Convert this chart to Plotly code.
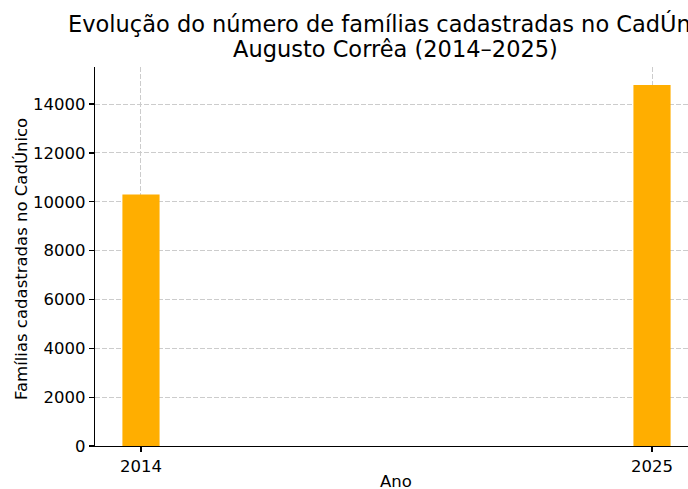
import plotly.graph_objects as go

years = [2014, 2025]
familias = [10300, 14780]
y_ticks = [0, 2000, 4000, 6000, 8000, 10000, 12000, 14000]

title_l1 = "Evolução do número de famílias cadastradas no CadÚnico"
title_l2 = "Augusto Corrêa (2014–2025)"
x_title = "Ano"
y_title = "Famílias cadastradas no CadÚnico"

FONT = "DejaVu Sans"
W, H = 700, 489
# plot area in window pixels: left 95, right 698 (cropped at 688), top 67, bottom 446
L = 95
T = 67
R = W - 698
B = H - 446
PW, PH = W - L - R, H - T - B


def px_x(x):
    return (x - L) / PW


def px_y(y):
    return (446 - y) / PH


fig = go.Figure()
fig.add_trace(go.Bar(
    x=years, y=familias, width=0.8,
    marker=dict(color="#FFAE00", line=dict(width=0)),
    hoverinfo="skip",
))

grid = dict(showgrid=True, gridcolor="#cccccc", griddash="5px,2px", gridwidth=1)
axis_common = dict(
    showline=True, linecolor="black", linewidth=1.3,
    ticks="outside", ticklen=5, tickwidth=1.3, tickcolor="black",
    zeroline=False, automargin=False,
    tickfont=dict(family=FONT, size=16.5, color="black"),
    **grid,
)

fig.update_layout(
    width=W, height=H,
    margin=dict(l=L, r=R, t=T, b=B, autoexpand=False),
    paper_bgcolor="white", plot_bgcolor="white",
    showlegend=False,
    font=dict(family=FONT, size=16.5, color="black"),
)

fig.update_xaxes(range=[2013.01, 2025.99], tickvals=years,
                 ticktext=[str(y) for y in years], **axis_common)
fig.update_yaxes(range=[0, 15519], tickvals=y_ticks,
                 ticktext=[str(v) for v in y_ticks], **axis_common)

ann = []
ann.append(dict(text=title_l1, x=px_x(395.5), y=px_y(23.8), xref="paper", yref="paper",
                xanchor="center", yanchor="middle", showarrow=False,
                font=dict(family=FONT, size=22.5, color="black")))
ann.append(dict(text=title_l2, x=px_x(395.5), y=px_y(49), xref="paper", yref="paper",
                xanchor="center", yanchor="middle", showarrow=False,
                font=dict(family=FONT, size=22.5, color="black")))
ann.append(dict(text=x_title, x=px_x(396), y=px_y(481), xref="paper", yref="paper",
                xanchor="center", yanchor="middle", showarrow=False,
                font=dict(family=FONT, size=16.5, color="black")))
ann.append(dict(text=y_title, x=px_x(21), y=px_y(259), xref="paper", yref="paper",
                xanchor="center", yanchor="middle", showarrow=False, textangle=-90,
                font=dict(family=FONT, size=16.5, color="black")))
fig.update_layout(annotations=ann)

page_css = (
    "document.documentElement.style.overflow='hidden';"
    "document.body.style.margin='0';"
    "document.body.style.overflow='hidden';"
)
fig.write_html("out.html", post_script=page_css,
               config={"displayModeBar": False, "staticPlot": True})
